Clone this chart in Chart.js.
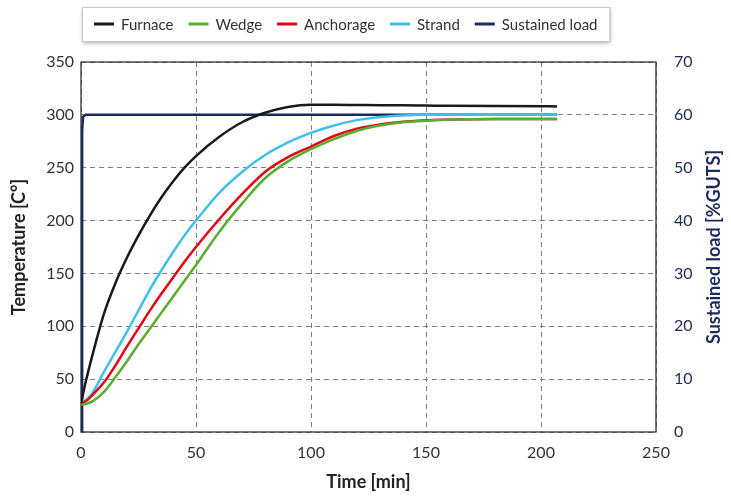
<!DOCTYPE html>
<html>
<head>
<meta charset="utf-8">
<script src="https://cdn.jsdelivr.net/npm/chart.js@4"></script>
<style>
  html, body { margin: 0; padding: 0; background: #fff; }
  #wrap { width: 731px; height: 496px; position: relative; }
</style>
</head>
<body>
<div id="wrap"><canvas id="chart"></canvas></div>
<script>
// time axis for the temperature curves [min]
var times = [0, 2, 5, 10, 15, 20, 25, 30, 35, 40, 45, 50, 60, 70, 80, 90, 100, 110, 120, 130, 140, 150, 160, 180, 207];

// temperatures [C]
var furnace   = [27, 47, 73, 112, 141, 165, 186, 205, 222, 237, 250, 261, 279, 293, 302, 307.5, 309.5, 309.5, 309.3, 309.1, 309, 308.8, 308.6, 308.3, 308];
var wedge     = [26, 26.5, 29, 38, 52, 67, 83, 98, 113, 128, 143, 158, 189, 216, 240, 256, 267.5, 277, 285, 290, 293, 294.5, 295.5, 296, 296];
var anchorage = [27, 29, 35, 47, 63, 81, 98, 115, 131, 146, 161, 175, 201, 225, 246, 260, 270, 280, 287, 291, 293.5, 295, 295.5, 296, 296];
var strand    = [27, 30, 37, 57, 76, 95, 115, 135, 153, 170, 186, 200, 226, 246, 262, 274, 283, 290, 295, 298, 299.5, 300, 300, 300, 300];

// sustained load [%GUTS]
var loadTimes = [0.5, 0.5, 0.9, 2, 207];
var loadValues = [0, 57, 59.6, 60, 60];

var xTicks = [0, 50, 100, 150, 200, 250];

var FONT = "Lato, 'Noto Sans', sans-serif";
var NAVY = "#1d2a5c";

function pts(xs, ys) {
  return xs.map(function(x, i) { return { x: x, y: ys[i] }; });
}

function series(label, xs, ys, color, axis) {
  return {
    label: label,
    data: pts(xs, ys),
    borderColor: color,
    backgroundColor: color,
    borderWidth: 2.5,
    pointRadius: 0,
    fill: false,
    yAxisID: axis,
    cubicInterpolationMode: axis === "y" ? "monotone" : "default",
    tension: 0
  };
}

// frame round the plot area
var framePlugin = {
  id: "frame",
  beforeDatasetsDraw: function(chart) {
    var a = chart.chartArea, ctx = chart.ctx;
    ctx.save();
    ctx.strokeStyle = "#333";
    ctx.lineWidth = 1.3;
    ctx.strokeRect(a.left, a.top, a.right - a.left, a.bottom - a.top);
    ctx.restore();
  }
};

// right axis title, reading bottom to top like the left one
var rightTitlePlugin = {
  id: "rightTitle",
  afterDraw: function(chart) {
    var a = chart.chartArea, ctx = chart.ctx;
    ctx.save();
    ctx.translate(714, (a.top + a.bottom) / 2);
    ctx.rotate(-Math.PI / 2);
    ctx.font = "bold 18px " + FONT;
    ctx.fillStyle = NAVY;
    ctx.textAlign = "center";
    ctx.textBaseline = "middle";
    ctx.fillText("Sustained load [%GUTS]", 0, 0);
    ctx.restore();
  }
};

// boxed legend at the top
var legendPlugin = {
  id: "boxLegend",
  afterDraw: function(chart) {
    var ctx = chart.ctx;
    ctx.save();
    ctx.font = "15px " + FONT;
    var x0 = 82, y0 = 7, h = 34, pad = 12, lineW = 20, gap = 7, itemGap = 15;
    var n = chart.data.datasets.length;
    var w = pad;
    chart.data.datasets.forEach(function(ds, i) {
      w += lineW + gap + ctx.measureText(ds.label).width + (i < n - 1 ? itemGap : 0);
    });
    w += pad;
    ctx.shadowColor = "rgba(0,0,0,0.35)";
    ctx.shadowBlur = 4;
    ctx.shadowOffsetX = 1;
    ctx.shadowOffsetY = 2;
    ctx.fillStyle = "#fff";
    ctx.fillRect(x0, y0, w, h);
    ctx.shadowColor = "transparent";
    ctx.strokeStyle = "#c8c8c8";
    ctx.lineWidth = 1;
    ctx.strokeRect(x0 + 0.5, y0 + 0.5, w, h);
    var x = x0 + pad, cy = y0 + h / 2;
    chart.data.datasets.forEach(function(ds) {
      ctx.strokeStyle = ds.borderColor;
      ctx.lineWidth = 3;
      ctx.beginPath();
      ctx.moveTo(x, cy);
      ctx.lineTo(x + lineW, cy);
      ctx.stroke();
      x += lineW + gap;
      ctx.fillStyle = "#333";
      ctx.textBaseline = "middle";
      ctx.fillText(ds.label, x, cy + 1);
      x += ctx.measureText(ds.label).width + itemGap;
    });
    ctx.restore();
  }
};

var gridStyle = { color: "#808080", lineWidth: 1, drawTicks: false };

new Chart(document.getElementById("chart"), {
  type: "line",
  data: {
    datasets: [
      series("Furnace", times, furnace, "#1a1a1a", "y"),
      series("Wedge", times, wedge, "#5aae2e", "y"),
      series("Anchorage", times, anchorage, "#e30613", "y"),
      series("Strand", times, strand, "#3fc0ec", "y"),
      series("Sustained load", loadTimes, loadValues, NAVY, "y1")
    ]
  },
  options: {
    responsive: true,
    maintainAspectRatio: false,
    animation: false,
    layout: { padding: { top: 62, left: 0, right: 0, bottom: 0 } },
    plugins: { legend: { display: false }, tooltip: { enabled: false } },
    scales: {
      x: {
        type: "linear",
        min: 0,
        max: 250,
        afterBuildTicks: function(s) { s.ticks = xTicks.map(function(v) { return { value: v }; }); },
        afterFit: function(s) { s.height = 64; },
        grid: gridStyle,
        border: { display: false, dash: [5, 4] },
        ticks: { padding: 11, color: "#333", font: { family: FONT, size: 16 } },
        title: {
          display: true,
          text: "Time [min]",
          color: "#222",
          padding: { top: 0, bottom: 3 },
          font: { family: FONT, size: 18, weight: "bold" }
        }
      },
      y: {
        position: "left",
        min: 0,
        max: 350,
        afterFit: function(s) { s.width = 81; },
        grid: gridStyle,
        border: { display: false, dash: [5, 4] },
        ticks: { stepSize: 50, padding: 7, color: "#333", font: { family: FONT, size: 16 } },
        title: {
          display: true,
          text: "Temperature [C°]",
          color: "#222",
          padding: { top: 8, bottom: 0 },
          font: { family: FONT, size: 18, weight: "bold" }
        }
      },
      y1: {
        position: "right",
        min: 0,
        max: 70,
        afterFit: function(s) { s.width = 75; },
        grid: { display: false },
        border: { display: false },
        ticks: { stepSize: 10, padding: 10, color: NAVY, font: { family: FONT, size: 16 } },
        title: { display: false }
      }
    }
  },
  plugins: [framePlugin, legendPlugin, rightTitlePlugin]
});
</script>
</body>
</html>
